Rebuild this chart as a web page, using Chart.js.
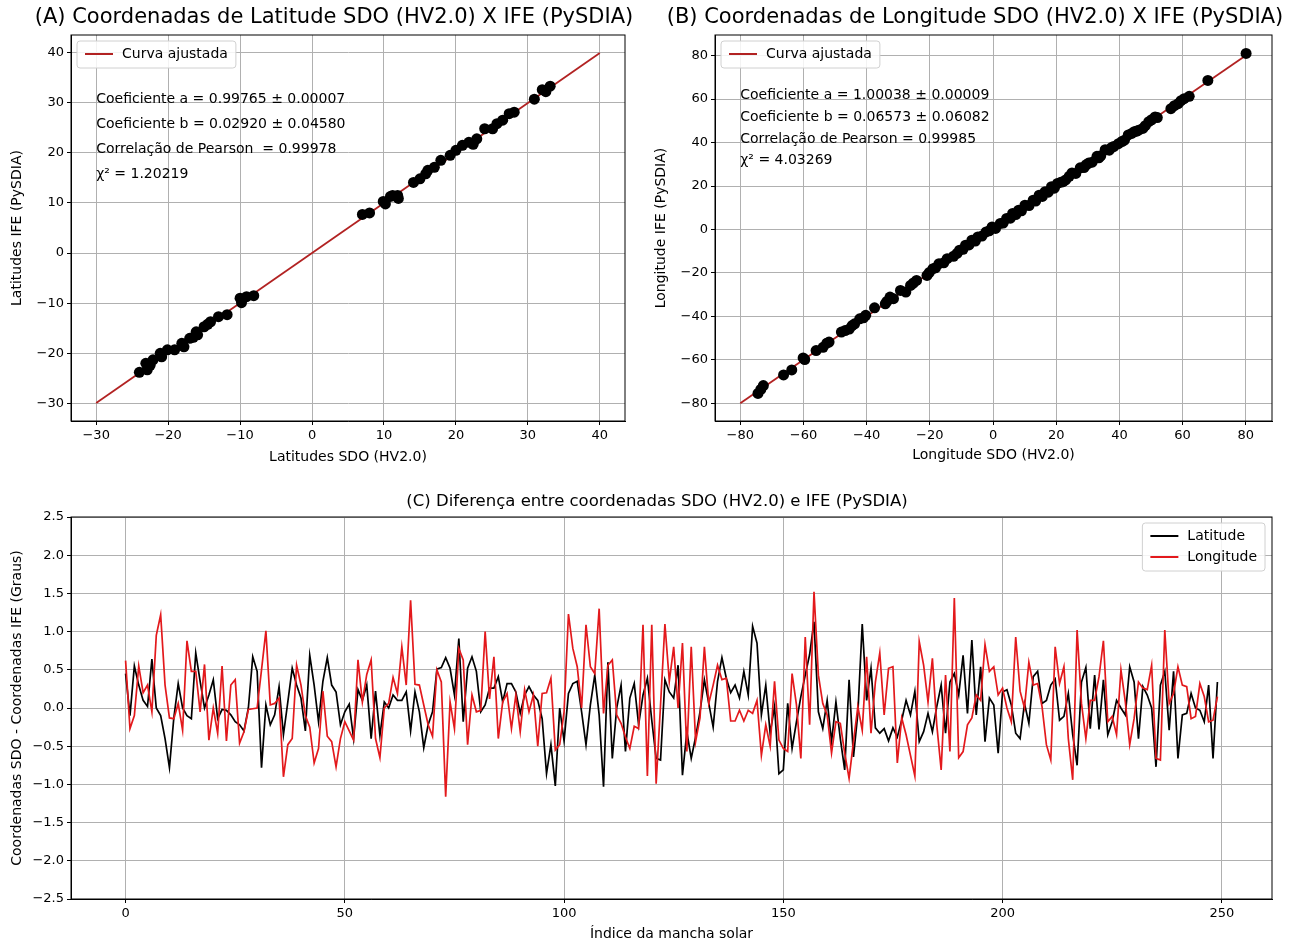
<!DOCTYPE html>
<html>
<head>
<meta charset="utf-8">
<script src="https://cdn.jsdelivr.net/npm/chart.js@4.4.1/dist/chart.umd.min.js"></script>
<style>
  body { margin: 0; background: #fff; width: 1295px; height: 943px; position: relative; overflow: hidden; }
  .box { position: absolute; }
</style>
</head>
<body>
<div class="box" style="left:0;top:0;width:640px;height:470px"><canvas id="latChart"></canvas></div>
<div class="box" style="left:645px;top:0;width:650px;height:470px"><canvas id="lonChart"></canvas></div>
<div class="box" style="left:0;top:480px;width:1295px;height:463px"><canvas id="diffChart"></canvas></div>
<script>
// (A) latitude SDO vs IFE
const latSdo = [-24, -23.1, -22.9, -22.5, -22.1, -21.1, -20.9, -20.1, -19.1, -18.1, -17.8, -17, -16.5, -16.1, -15.9, -15, -14.5, -14.1, -13, -11.8,
  -10, -9.8, -9.1, -8.1, 7, 8, 9.9, 10.2, 10.9, 11.2, 11.9, 12, 14.1, 15, 15.8, 16.1, 17, 17.9, 19.2, 20, 20.9, 21.8, 22.4, 22.9,
  24, 25.1, 25.7, 26.5, 27.4, 28.1, 30.9, 32, 32.5, 33.1];
const latIfe = [-23.8, -22, -23.3, -22.4, -21.3, -20, -20.7, -19.3, -19.3, -18, -18.7, -17, -16.8, -15.7, -16.3, -14.7, -14.2, -13.7, -12.7, -12.3,
  -9, -9.9, -8.7, -8.5, 7.7, 8, 10.3, 9.8, 11.3, 11.5, 11.5, 10.9, 14.1, 14.8, 15.8, 16.5, 17.1, 18.5, 19.5, 20.5, 21.5, 22.1, 21.7, 22.8,
  24.8, 24.8, 25.8, 26.5, 27.8, 28.1, 30.7, 32.6, 32.2, 33.3];
const latFitX = [-30, 40];
const latFitY = [-29.9, 39.9];
const latTicks = [-30, -20, -10, 0, 10, 20, 30, 40];
const latFitText = ['Coeficiente a = 0.99765 ± 0.00007', 'Coeficiente b = 0.02920 ± 0.04580',
  'Correlação de Pearson  = 0.99978', 'χ² = 1.20219'];

// (B) longitude SDO vs IFE
const lonSdo = [-74.4, -73.5, -72.7, -66.3, -63.7, -60.1, -59.6, -56, -53.8, -52.6, -51.9, -48, -46.8, -45.5, -44.6, -43.8,
  -42.2, -41, -40.3, -37.5, -34.1, -33.6, -32.6, -31.5, -29.3, -27.6, -26.1, -25.2, -24.2, -20.9, -20.2, -19, -18.2, -17.1,
  -15.6, -14.5, -12.5, -11.4, -10.6, -9.5, -8.7, -7.6, -6.7, -5.6, -4.8, -3.5, -2.2, -1.2, -0.3, 0.8, 2.3, 3.2, 4.3, 5.5, 6.2,
  7.2, 8.1, 9, 10.1, 11.4, 12.7, 13.5, 14.6, 15.6, 16.5, 17.5, 18.5, 19.4, 20.4, 21.5, 22.2, 23, 24.1, 25, 26.2, 27.6, 28.8,
  29.5, 30.3, 31.4, 32.9, 33.5, 34.1, 35.5, 36.8, 37.4, 38.2, 39.7, 40.8, 41.6, 42.8, 43.9, 44.7, 45.3, 46.1, 47.4, 48.2,
  49.3, 50.2, 51.3, 52, 56.3, 57.4, 58.6, 59.5, 60.5, 62.1, 68, 80.1];
const lonIfe = [-75.4, -73.6, -71.8, -66.9, -64.6, -59.1, -59.8, -55.7, -54.2, -52.3, -51.8, -47.2, -46.5, -45.8, -44.2, -43.4,
  -41.1, -40.6, -39.5, -36, -34.2, -33.1, -31.1, -31.8, -28, -28.8, -25.7, -24.6, -23.4, -21.1, -19.8, -18, -17.6, -15.7,
  -15.3, -13.4, -12.3, -11, -9.5, -9.1, -7.2, -7.1, -4.9, -5.3, -3.4, -3, -1.1, -0.6, 1.2, 0.5, 2.8, 3, 5.1, 5.2, 7.4,
  6.9, 8.9, 8.6, 11.2, 11, 13.5, 13.1, 15.8, 15.2, 17.4, 17.2, 19.7, 19, 21.2, 21.8, 22, 22.8, 24.5, 26, 25.8, 28.4, 28.5,
  29.8, 30.6, 31, 33.7, 33, 33.9, 36.7, 36.5, 37.6, 38.2, 39.5, 40.5, 41.1, 43.5, 44.2, 45, 45.2, 45.7, 46.5, 47.8,
  49.6, 50.5, 51.8, 51.5, 55.6, 57, 57.9, 59.3, 60.2, 61.3, 68.6, 81];
const lonFitX = [-80, 80];
const lonFitY = [-79.97, 80.1];
const lonTicks = [-80, -60, -40, -20, 0, 20, 40, 60, 80];
const lonFitText = ['Coeficiente a = 1.00038 ± 0.00009', 'Coeficiente b = 0.06573 ± 0.06082',
  'Correlação de Pearson = 0.99985', 'χ² = 4.03269'];

// (C) differences per sunspot index
const latDiff = [
  0.45, -0.1, 0.55, 0.3, 0.1, 0.02, 0.64, 0.0, -0.1, -0.4,
  -0.78, -0.13, 0.32, 0.0, -0.1, -0.14, 0.72, 0.35, 0.0, 0.17,
  0.37, -0.14, -0.02, -0.03, -0.09, -0.18, -0.22, -0.3, 0.0, 0.67,
  0.48, -0.78, 0.04, -0.22, -0.09, 0.28, -0.35, 0.08, 0.52, 0.3,
  0.13, -0.3, 0.69, 0.3, -0.18, 0.35, 0.66, 0.3, 0.21, -0.22,
  -0.05, 0.05, -0.4, 0.24, 0.1, 0.3, -0.4, 0.22, -0.36, 0.08,
  0.0, 0.17, 0.1, 0.1, 0.21, -0.3, 0.21, -0.05, -0.52, -0.22,
  -0.05, 0.51, 0.53, 0.66, 0.52, 0.17, 0.91, -0.18, 0.52, 0.67,
  0.48, -0.05, 0.04, 0.26, 0.26, 0.41, 0.08, 0.32, 0.32, 0.21,
  -0.07, 0.17, 0.28, 0.17, 0.1, -0.14, -0.86, -0.48, -1.02, 0.0,
  -0.43, 0.19, 0.32, 0.35, -0.05, -0.48, 0.04, 0.43, -0.09, -1.03,
  0.6, -0.66, 0.0, 0.3, -0.57, 0.13, 0.32, -0.22, 0.17, 0.39,
  -0.16, -0.66, -0.68, 0.37, 0.21, 0.13, 0.56, -0.88, -0.31, -0.66,
  -0.38, -0.05, 0.37, 0.06, -0.25, 0.35, 0.66, 0.39, 0.2, 0.3,
  0.13, 0.48, 0.17, 1.07, 0.85, -0.09, 0.3, -0.33, 0.02, -0.86,
  -0.81, 0.06, -0.53, -0.18, 0.15, 0.43, 0.7, 1.13, -0.05, -0.27,
  0.1, -0.44, 0.08, -0.4, -0.81, 0.37, -0.64, -0.07, 1.1, 0.1,
  0.52, -0.26, -0.33, -0.27, -0.43, -0.26, -0.38, -0.16, 0.1, -0.09,
  0.22, -0.44, -0.31, -0.07, -0.31, 0.02, 0.3, -0.33, 0.34, 0.45,
  0.17, 0.69, -0.07, 0.89, -0.09, 0.54, -0.44, 0.13, 0.04, -0.59,
  0.21, 0.24, 0.04, -0.33, -0.4, 0.06, -0.2, 0.41, 0.48, 0.06,
  0.1, 0.3, 0.38, -0.16, -0.11, 0.19, -0.35, -0.75, 0.34, 0.53,
  -0.27, 0.43, -0.28, 0.37, -0.35, -0.18, 0.1, 0.0, -0.09, 0.54,
  0.34, -0.4, 0.28, 0.17, 0.0, -0.77, 0.3, 0.48, -0.29, 0.48,
  -0.66, -0.09, -0.07, 0.19, 0.0, -0.03, -0.18, 0.3, -0.66, 0.34
];
const lonDiff = [
  0.62, -0.27, -0.1, 0.55, 0.2, 0.3, -0.05, 0.95, 1.22, 0.3,
  -0.13, -0.14, 0.06, -0.29, 0.88, 0.48, 0.48, -0.05, 0.57, -0.42,
  0.0, -0.33, 0.55, -0.43, 0.3, 0.37, -0.46, -0.31, -0.02, -0.01,
  0.0, 0.5, 1.01, 0.04, 0.06, 0.13, -0.9, -0.48, -0.4, 0.56,
  0.3, -0.1, -0.25, -0.72, -0.53, 0.22, -0.37, -0.44, -0.77, -0.4,
  -0.18, -0.3, -0.42, 0.63, 0.08, 0.44, 0.63, -0.4, -0.65, 0.0,
  0.06, 0.4, 0.19, 0.8, 0.3, 1.41, 0.31, 0.3, 0.04, -0.22,
  -0.37, 0.5, 0.34, -1.16, 0.08, -0.27, 0.78, 0.63, -0.48, 0.17,
  -0.05, -0.03, 1.0, 0.12, 0.67, -0.4, 0.08, 0.19, -0.27, 0.17,
  -0.31, 0.24, -0.05, 0.17, -0.5, 0.19, 0.2, 0.39, -0.55, -0.48,
  -0.05, 1.23, 0.78, 0.54, 0.0, 1.09, 0.54, 0.45, 1.3, -0.07,
  0.56, 0.63, -0.09, -0.2, -0.38, -0.53, -0.24, -0.27, 1.09, -0.89,
  1.09, -0.99, 0.04, 1.1, 0.35, 0.8, 0.0, 0.85, -0.57, 0.8,
  -0.44, -0.13, 0.8, 0.06, 0.3, 0.56, 0.37, 0.39, -0.17, -0.17,
  -0.03, -0.17, -0.03, -0.07, 0.1, -0.62, -0.22, -0.5, 0.35, -0.42,
  -0.53, -0.57, 0.45, 0.04, -0.66, 0.93, -0.22, 1.52, 0.43, 0.06,
  -0.09, -0.59, -0.18, -0.2, -0.59, -0.92, -0.44, 0.02, -0.29, 0.67,
  -0.33, 0.34, 0.72, -0.09, 0.52, 0.54, -0.72, -0.13, -0.35, -0.62,
  -0.89, 0.87, 0.56, 0.08, 0.65, -0.22, -0.81, 0.43, -0.57, 1.44,
  -0.65, -0.57, -0.22, -0.13, 0.17, 0.1, 0.83, 0.48, 0.54, 0.17,
  0.26, 0.0, -0.18, 0.93, 0.22, 0.0, 0.6, 0.3, 0.32, 0.02,
  -0.48, -0.68, 0.8, 0.32, 0.54, -0.4, -0.94, 1.02, 0.06, -0.4,
  0.1, 0.1, 0.41, 0.88, -0.18, -0.11, -0.35, 0.5, 0.08, -0.48,
  -0.14, 0.34, 0.26, 0.24, 0.56, -0.66, -0.68, 1.02, 0.06, 0.19,
  0.54, 0.3, 0.28, -0.14, -0.11, 0.32, 0.15, -0.18, -0.16, 0.15
];
const idxTicks = [0, 50, 100, 150, 200, 250];
const diffTicks = [-2.5, -2, -1.5, -1, -0.5, 0, 0.5, 1, 1.5, 2, 2.5];

const FONT = "'DejaVu Sans', sans-serif";
Chart.defaults.font.family = FONT;
Chart.defaults.color = '#000';
Chart.defaults.animation = false;

const fitRed = '#b22222';
const lonRed = '#e3191c';

const minus = s => s.replace('-', '\u2212');
const fmtInt = v => minus(String(v));
const fmtDec = v => minus(v.toFixed(1));

function pts(xs, ys) {
  return xs.map((x, i) => ({ x: x, y: ys[i] }));
}

// one axis with fixed thickness, matplotlib-like grid and ticks
function axis(pos, title, ticks, min, max, size, titlePad, fmt) {
  return {
    type: 'linear', position: pos, min: min, max: max,
    afterBuildTicks: s => { s.ticks = ticks.map(v => ({ value: v })); },
    afterFit: s => { if (pos === 'left') s.width = size; else s.height = size; },
    ticks: { callback: fmt, font: { size: 13 }, color: '#000', padding: 3, maxRotation: 0, autoSkip: false },
    grid: { color: '#b0b0b0', lineWidth: 1, tickColor: '#000', tickLength: 4 },
    border: { color: '#000', width: 1 },
    title: { display: true, text: title, font: { size: 14 }, color: '#000', padding: titlePad }
  };
}

// titles, fit notes, legend box and the axes frame
const panelText = {
  id: 'panelText',
  afterDraw(chart, args, o) {
    const ctx = chart.ctx, a = chart.chartArea;
    ctx.save();
    ctx.strokeStyle = '#000';
    ctx.lineWidth = 1;
    ctx.strokeRect(a.left, a.top, a.right - a.left, a.bottom - a.top);

    ctx.fillStyle = '#000';
    ctx.font = o.titleSize + 'px ' + FONT;
    ctx.textAlign = 'center';
    ctx.textBaseline = 'middle';
    ctx.fillText(o.title, o.titleX, o.titleY);

    if (o.notes) {
      ctx.font = '14px ' + FONT;
      ctx.textAlign = 'left';
      ctx.textBaseline = 'alphabetic';
      o.notes.forEach((t, i) => {
        ctx.fillText(t, chart.scales.x.getPixelForValue(o.noteX), chart.scales.y.getPixelForValue(o.noteY[i]));
      });
    }

    const lg = o.legend;
    ctx.font = '14px ' + FONT;
    const tw = Math.max(...lg.items.map(it => ctx.measureText(it.label).width));
    const w = 8 + 28 + 9 + tw + 8;
    const h = 6 + lg.items.length * 21;
    const x0 = lg.right ? a.right - 7 - w : a.left + 6;
    const y0 = a.top + 6;
    ctx.beginPath();
    ctx.roundRect(x0, y0, w, h, 3);
    ctx.fillStyle = 'rgba(255,255,255,0.85)';
    ctx.fill();
    ctx.strokeStyle = '#d0d0d0';
    ctx.lineWidth = 1;
    ctx.stroke();
    lg.items.forEach((it, i) => {
      const yy = y0 + 13 + i * 21;
      ctx.strokeStyle = it.color;
      ctx.lineWidth = 2;
      ctx.beginPath();
      ctx.moveTo(x0 + 8, yy);
      ctx.lineTo(x0 + 36, yy);
      ctx.stroke();
      ctx.fillStyle = '#000';
      ctx.textAlign = 'left';
      ctx.textBaseline = 'middle';
      ctx.fillText(it.label, x0 + 45, yy);
    });
    ctx.restore();
  }
};

// Latitude chart
const latChart = new Chart(document.getElementById('latChart'), {
  type: 'scatter',
  data: {
    datasets: [{
      label: 'Latitude',
      data: pts(latSdo, latIfe),
      backgroundColor: '#000',
      borderWidth: 0,
      pointRadius: 5.5,
      order: 0
    }, {
      label: 'Curva ajustada',
      data: pts(latFitX, latFitY),
      showLine: true,
      borderColor: fitRed,
      borderWidth: 1.8,
      pointRadius: 0,
      order: 1
    }]
  },
  options: {
    responsive: true,
    maintainAspectRatio: false,
    layout: { padding: { top: 35, right: 15, left: 0, bottom: 0 } },
    plugins: {
      legend: { display: false },
      tooltip: { enabled: false },
      panelText: {
        title: '(A) Coordenadas de Latitude SDO (HV2.0) X IFE (PySDIA)', titleSize: 21, titleX: 334, titleY: 18,
        notes: latFitText, noteX: -30, noteY: [30, 25, 20, 15],
        legend: { right: false, items: [{ label: 'Curva ajustada', color: fitRed }] }
      }
    },
    scales: {
      x: axis('bottom', 'Latitudes SDO (HV2.0)', latTicks, -33.5, 43.5, 49, { top: 2, bottom: 4.6 }, fmtInt),
      y: axis('left', 'Latitudes IFE (PySDIA)', latTicks, -33.5, 43.5, 71, { top: 8.6, bottom: 2 }, fmtInt)
    }
  },
  plugins: [panelText]
});

// Longitude chart
const lonChart = new Chart(document.getElementById('lonChart'), {
  type: 'scatter',
  data: {
    datasets: [{
      label: 'Longitude',
      data: pts(lonSdo, lonIfe),
      backgroundColor: '#000',
      borderWidth: 0,
      pointRadius: 5.5,
      order: 0
    }, {
      label: 'Curva ajustada',
      data: pts(lonFitX, lonFitY),
      showLine: true,
      borderColor: fitRed,
      borderWidth: 1.8,
      pointRadius: 0,
      order: 1
    }]
  },
  options: {
    responsive: true,
    maintainAspectRatio: false,
    layout: { padding: { top: 35, right: 23, left: 0, bottom: 0 } },
    plugins: {
      legend: { display: false },
      tooltip: { enabled: false },
      panelText: {
        title: '(B) Coordenadas de Longitude SDO (HV2.0) X IFE (PySDIA)', titleSize: 21, titleX: 330, titleY: 18,
        notes: lonFitText, noteX: -80, noteY: [60, 50, 40, 30],
        legend: { right: false, items: [{ label: 'Curva ajustada', color: fitRed }] }
      }
    },
    scales: {
      x: axis('bottom', 'Longitude SDO (HV2.0)', lonTicks, -88, 88.3, 49, { top: 2, bottom: 6.6 }, fmtInt),
      y: axis('left', 'Longitude IFE (PySDIA)', lonTicks, -88.1, 89.5, 70, { top: 7.6, bottom: 2 }, fmtInt)
    }
  },
  plugins: [panelText]
});

// Difference chart
const diffChart = new Chart(document.getElementById('diffChart'), {
  type: 'scatter',
  data: {
    datasets: [{
      label: 'Latitude',
      data: latDiff.map((v, i) => ({ x: i, y: v })),
      showLine: true,
      borderColor: '#000',
      borderWidth: 1.7,
      pointRadius: 0,
      order: 1
    }, {
      label: 'Longitude',
      data: lonDiff.map((v, i) => ({ x: i, y: v })),
      showLine: true,
      borderColor: lonRed,
      borderWidth: 1.7,
      pointRadius: 0,
      order: 0
    }]
  },
  options: {
    responsive: true,
    maintainAspectRatio: false,
    layout: { padding: { top: 37, right: 23, left: 0, bottom: 0 } },
    plugins: {
      legend: { display: false },
      tooltip: { enabled: false },
      panelText: {
        title: '(C) Diferença entre coordenadas SDO (HV2.0) e IFE (PySDIA)', titleSize: 16.5, titleX: 657, titleY: 22,
        legend: { right: true, items: [{ label: 'Latitude', color: '#000' }, { label: 'Longitude', color: lonRed }] }
      }
    },
    scales: {
      x: axis('bottom', 'Índice da mancha solar', idxTicks, -12.45, 261.45, 44, { top: 2, bottom: 0.6 }, fmtInt),
      y: axis('left', 'Coordenadas SDO - Coordenadas IFE (Graus)', diffTicks, -2.5, 2.5, 71, { top: 8.6, bottom: 2 }, fmtDec)
    }
  },
  plugins: [panelText]
});
</script>
</body>
</html>
